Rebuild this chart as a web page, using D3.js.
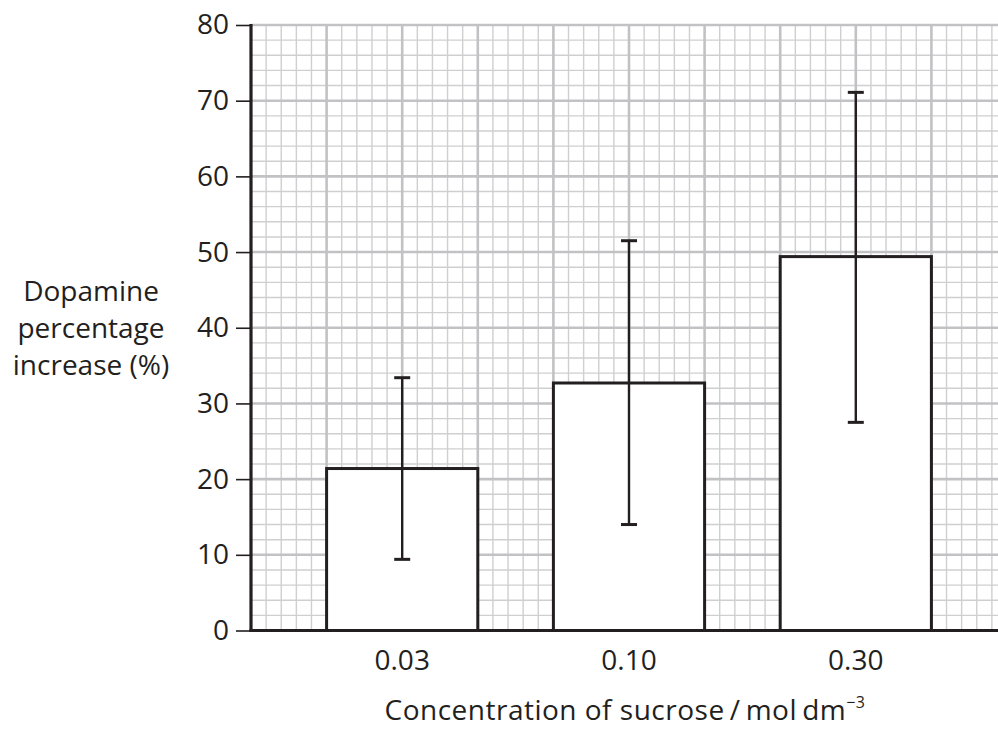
<!DOCTYPE html>
<html>
<head>
<meta charset="utf-8">
<script src="https://cdn.jsdelivr.net/npm/d3@7"></script>
<style>
  body { margin: 0; background: #fff; }
  text { font-family: "Open Sans", "Noto Sans", sans-serif; fill: #231f20; }
</style>
</head>
<body>
<div id="chart"></div>
<script>
const categories = ["0.03", "0.10", "0.30"];
const means = [21.4, 32.7, 49.4];
const lower = [9.4, 14.0, 27.5];
const upper = [33.4, 51.5, 71.1];
const yTicks = [0, 10, 20, 30, 40, 50, 60, 70, 80];

const width = 998, height = 731;
const plotLeft = 251, plotTop = 25, plotBottom = 630.5;
const unit = 75.6; // one big grid square
const fs = 28;

const svg = d3.select("#chart")
              .append("svg")
              .attr("width", width)
              .attr("height", height);

const y = d3.scaleLinear().domain([0, 80]).range([plotBottom, plotTop]);

// bars take 2 squares, 1 square gap
const x = d3.scaleBand()
            .domain(categories)
            .range([plotLeft, plotLeft + 10 * unit])
            .paddingInner(1 / 3)
            .paddingOuter(1 / 3);

// grid in squares along x
const gx = d3.scaleLinear().domain([0, 10]).range([plotLeft, plotLeft + 10 * unit]);

const grid = svg.append("g");
const minorX = d3.range(0, 50).map(d => d / 5).filter(d => d % 1 !== 0);
const minorY = d3.range(0, 81, 2).filter(d => d % 10 !== 0);

grid.selectAll(".mx").data(minorX).enter().append("line")
    .attr("x1", d => gx(d)).attr("x2", d => gx(d))
    .attr("y1", y(80)).attr("y2", y(0))
    .attr("stroke", "#cfcfd1").attr("stroke-width", 1.4);
grid.selectAll(".my").data(minorY).enter().append("line")
    .attr("x1", plotLeft).attr("x2", width)
    .attr("y1", d => y(d)).attr("y2", d => y(d))
    .attr("stroke", "#cfcfd1").attr("stroke-width", 1.4);
grid.selectAll(".Mx").data(d3.range(1, 10)).enter().append("line")
    .attr("x1", d => gx(d)).attr("x2", d => gx(d))
    .attr("y1", y(80) - 1).attr("y2", y(0))
    .attr("stroke", "#c2c2c5").attr("stroke-width", 2.6);
grid.selectAll(".My").data(yTicks.slice(1)).enter().append("line")
    .attr("x1", plotLeft).attr("x2", width)
    .attr("y1", d => y(d)).attr("y2", d => y(d))
    .attr("stroke", "#c2c2c5").attr("stroke-width", 2.6);

// bars
svg.selectAll(".bar").data(categories).enter().append("rect")
   .attr("x", d => x(d))
   .attr("width", x.bandwidth())
   .attr("y", (d, i) => y(means[i]))
   .attr("height", (d, i) => y(0) - y(means[i]))
   .attr("fill", "#fff")
   .attr("stroke", "#231f20")
   .attr("stroke-width", 3);

// error bars
const err = svg.selectAll(".err").data(categories).enter().append("g")
               .attr("stroke", "#231f20");
err.append("line")
   .attr("x1", d => x(d) + x.bandwidth() / 2).attr("x2", d => x(d) + x.bandwidth() / 2)
   .attr("y1", (d, i) => y(lower[i])).attr("y2", (d, i) => y(upper[i]))
   .attr("stroke-width", 2.4);
err.append("line")
   .attr("x1", d => x(d) + x.bandwidth() / 2 - 8).attr("x2", d => x(d) + x.bandwidth() / 2 + 8)
   .attr("y1", (d, i) => y(upper[i])).attr("y2", (d, i) => y(upper[i]))
   .attr("stroke-width", 3);
err.append("line")
   .attr("x1", d => x(d) + x.bandwidth() / 2 - 8).attr("x2", d => x(d) + x.bandwidth() / 2 + 8)
   .attr("y1", (d, i) => y(lower[i])).attr("y2", (d, i) => y(lower[i]))
   .attr("stroke-width", 3);

// axes
const yAxis = svg.append("g")
                 .attr("transform", "translate(" + plotLeft + ",0)")
                 .call(d3.axisLeft(y).tickValues(yTicks).tickSize(15).tickPadding(7));
yAxis.select(".domain").remove();
yAxis.selectAll(".tick line").attr("stroke", "#231f20").attr("stroke-width", 1.6);
yAxis.selectAll(".tick text")
     .attr("fill", "#231f20")
     .style("font-size", fs + "px")
     .style("font-family", "'Open Sans', sans-serif");

svg.append("line")
   .attr("x1", plotLeft).attr("x2", plotLeft)
   .attr("y1", y(80) - 1).attr("y2", y(0) + 1.5)
   .attr("stroke", "#231f20").attr("stroke-width", 3.2);
svg.append("line")
   .attr("x1", plotLeft - 1.5).attr("x2", width)
   .attr("y1", y(0)).attr("y2", y(0))
   .attr("stroke", "#231f20").attr("stroke-width", 3.2);

svg.selectAll(".xl").data(categories).enter().append("text")
   .attr("x", d => x(d) + x.bandwidth() / 2)
   .attr("y", 670)
   .attr("text-anchor", "middle")
   .style("font-size", fs + "px")
   .text(d => d);

// titles
const yt = svg.append("text")
              .attr("text-anchor", "middle")
              .style("font-size", fs + "px");
["Dopamine", "percentage", "increase (%)"].forEach((s, i) => {
  yt.append("tspan").attr("x", 91).attr("y", 301 + i * 37).text(s);
});

const xt = svg.append("text")
              .attr("x", 625)
              .attr("y", 720)
              .attr("text-anchor", "middle")
              .style("font-size", "28px")
              .style("letter-spacing", "0.5px")
              .text("Concentration of sucrose\u2009/\u2009mol\u2009dm");
xt.append("tspan").attr("dy", -12).style("font-size", "16px").text("\u22123");
</script>
</body>
</html>
